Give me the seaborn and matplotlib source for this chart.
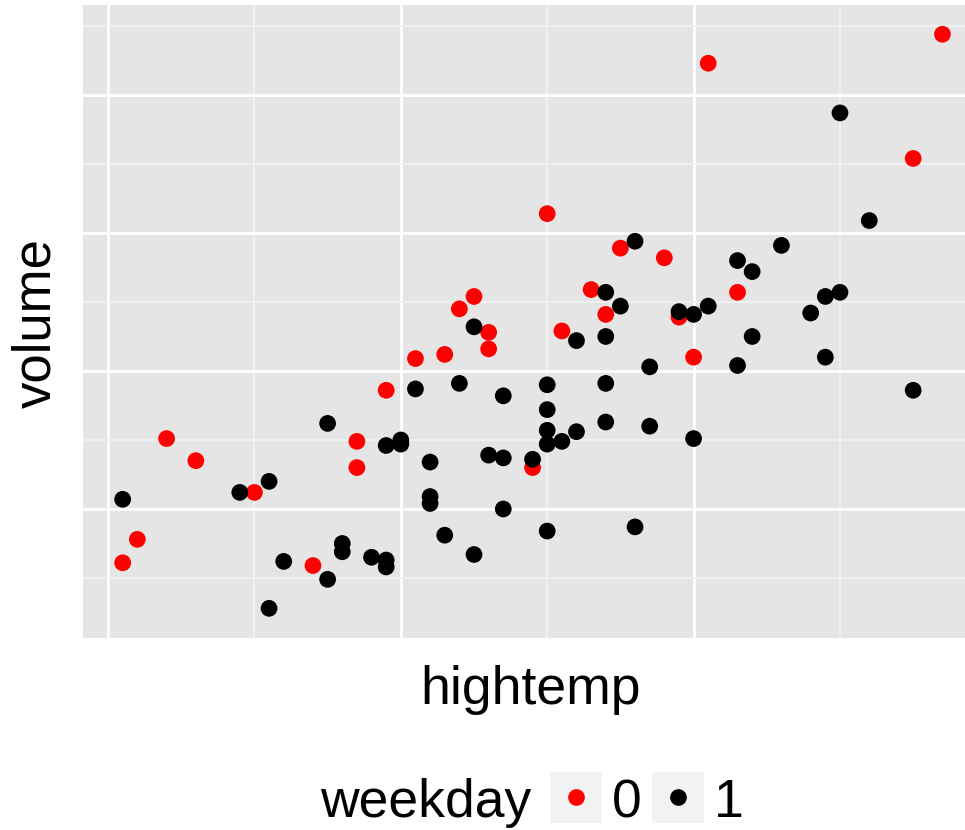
import pandas as pd
import seaborn as sns
import matplotlib.pyplot as plt
from matplotlib.patches import Rectangle
from matplotlib.lines import Line2D

plt.rcParams['font.family'] = ['Liberation Sans', 'DejaVu Sans']

# weekday == 0
hightemp_0 = [70, 81, 97, 95, 75, 78, 73, 74, 65, 64, 66, 66, 71, 61, 63, 59,
              83, 79, 80, 44, 57, 46, 57, 50, 42, 41, 54, 69]
volume_0 = [414, 523, 544, 454, 389, 382, 359, 341, 354, 345, 328, 316, 329, 309, 312, 286,
            357, 339, 310, 251, 249, 235, 230, 212, 178, 161, 159, 230]

# weekday == 1
hightemp_1 = [90, 92, 76, 74, 75, 65, 72, 74, 77, 61, 64, 67, 70, 74, 70, 70,
              72, 74, 77, 86, 83, 84, 90, 89, 81, 79, 80, 88, 84, 89, 83, 95,
              80, 55, 51, 49, 41, 52, 56, 56, 58, 55, 51, 59, 60, 60, 62, 66,
              67, 69, 70, 71, 62, 62, 67, 63, 70, 76, 65, 59, 59]
volume_1 = [487, 409, 394, 357, 347, 332, 322, 325, 303, 287, 291, 282, 290, 291, 272, 257,
            256, 263, 260, 391, 380, 372, 357, 354, 347, 343, 341, 342, 325, 310, 304, 286,
            251, 262, 220, 212, 207, 162, 175, 169, 165, 149, 128, 246, 250, 247, 234, 239,
            237, 236, 247, 249, 209, 204, 200, 181, 184, 187, 167, 163, 158]

weekday_levels = ["0", "1"]
weekday_colors = ["red", "black"]

df = pd.DataFrame({
    "hightemp": hightemp_0 + hightemp_1,
    "volume": volume_0 + volume_1,
    "weekday": ["0"] * len(hightemp_0) + ["1"] * len(hightemp_1),
})

W, H = 965, 830
fig = plt.figure(figsize=(W / 100, H / 100), dpi=100)
ax = fig.add_axes([83 / W, 1 - 638 / H, 1 - 83 / W, (638 - 5) / H])

sns.scatterplot(data=df, x="hightemp", y="volume", hue="weekday",
                hue_order=weekday_levels, palette=dict(zip(weekday_levels, weekday_colors)),
                s=145, linewidth=0, alpha=1, legend=False, ax=ax)

ax.set_facecolor("#E5E5E5")
ax.set_xlim(38.29, 98.54)
ax.set_ylim(106.5, 565.2)
ax.set_xticks([40, 60, 80])
ax.set_xticks([50, 70, 90], minor=True)
ax.set_yticks([200, 300, 400, 500])
ax.set_yticks([150, 250, 350, 450, 550], minor=True)
ax.grid(which="major", color="white", lw=2.0)
ax.grid(which="minor", color="#F4F4F4", lw=1.1)
ax.set_axisbelow(True)
ax.tick_params(which="both", length=0, labelbottom=False, labelleft=False)
for sp in ax.spines.values():
    sp.set_visible(False)
ax.set_xlabel("")
ax.set_ylabel("")

fig.text(531 / W, 1 - 690 / H, "hightemp", ha="center", va="center", fontsize=38.5)
fig.text(36 / W, 1 - 323 / H, "volume", ha="center", va="center", rotation=90, fontsize=38)

# legend along the bottom
fig.text(320 / W, 1 - 817 / H, "weekday", ha="left", va="baseline", fontsize=38.5)
key_x = [550, 652]
for kx, lab, col in zip(key_x, weekday_levels, weekday_colors):
    fig.add_artist(Rectangle((kx / W, 1 - 823 / H), 52 / W, 51 / H, transform=fig.transFigure,
                             facecolor="#F2F2F2", edgecolor="none"))
    fig.add_artist(Line2D([(kx + 26) / W], [1 - 797 / H], marker="o", ms=11, color=col,
                          linestyle="none", transform=fig.transFigure))
    fig.text((kx + 62) / W, 1 - 817 / H, lab, ha="left", va="baseline", fontsize=38.5)

fig.savefig("out.png", dpi=100)
